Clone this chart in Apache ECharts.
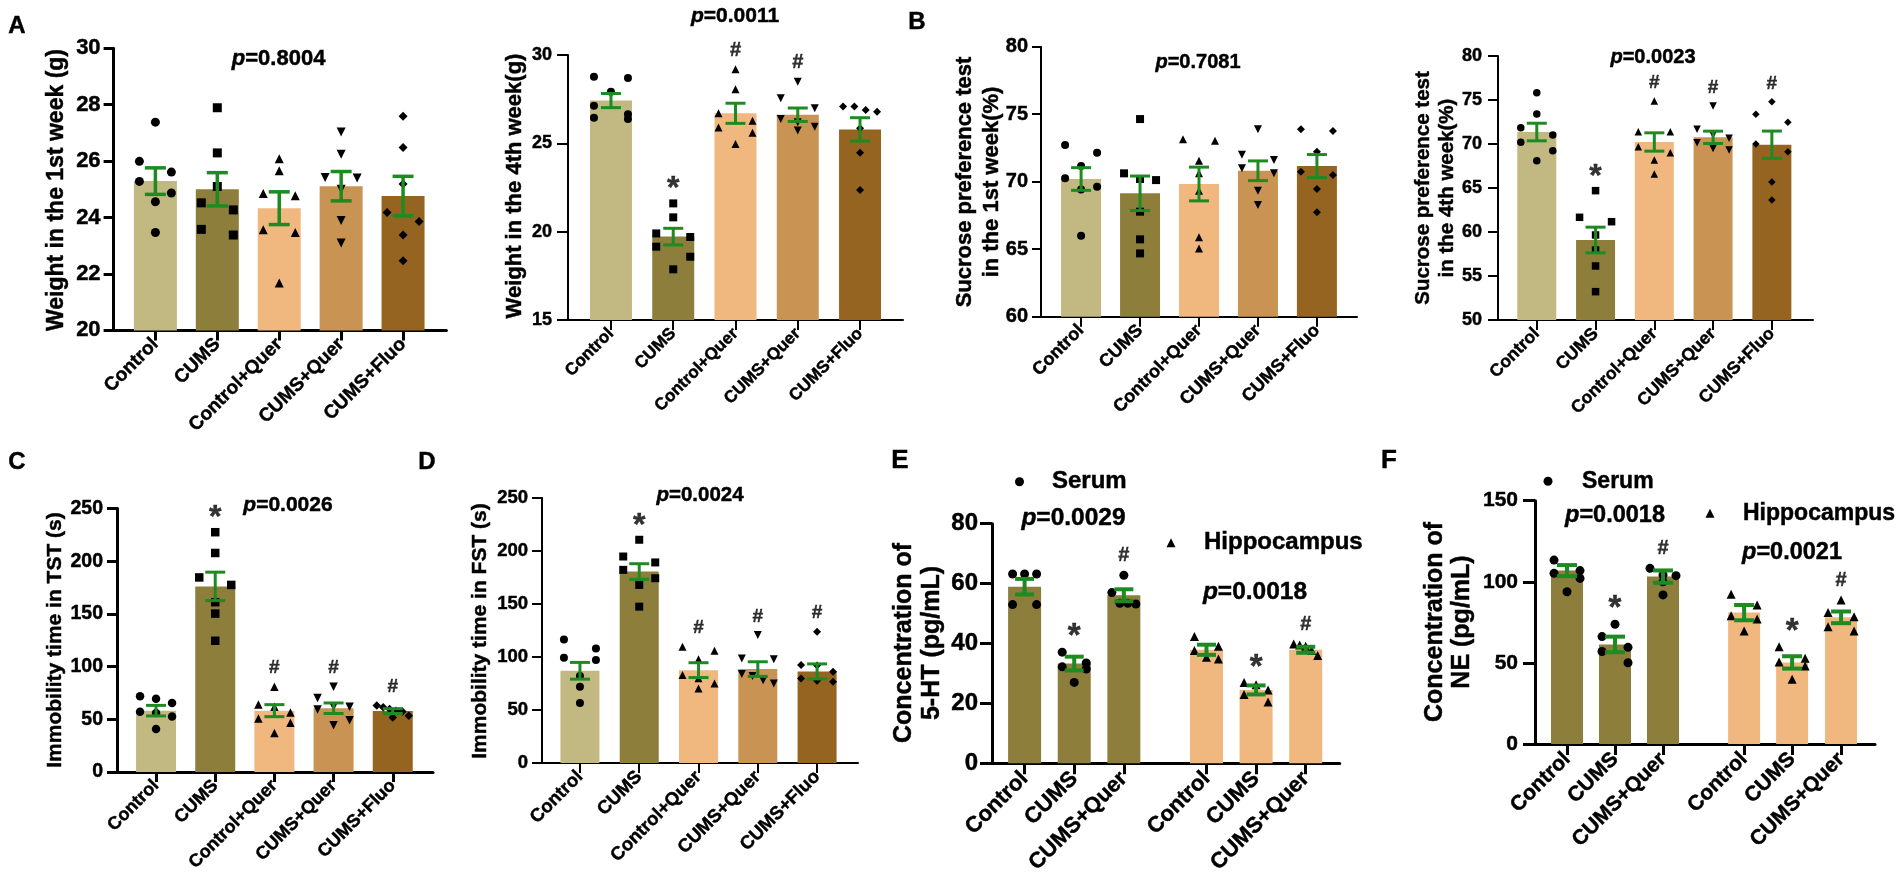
<!DOCTYPE html>
<html>
<head>
<meta charset="utf-8">
<script src="https://cdn.jsdelivr.net/npm/echarts@6/dist/echarts.min.js"></script>
<style>
html,body{margin:0;padding:0;background:#fff;}
#chart{width:1902px;height:888px;}
</style>
</head>
<body>
<div id="chart"></div>
<script>
// ================= DATA =================
const groups5 = ['Control', 'CUMS', 'Control+Quer', 'CUMS+Quer', 'CUMS+Fluo'];
const groups3 = ['Control', 'CUMS', 'CUMS+Quer'];

// A (left): body weight, 1st week
const weight1Means = [25.29, 25.0, 24.33, 25.11, 24.76];
const weight1Sem = [0.47, 0.59, 0.58, 0.52, 0.70];
const weight1Points = [
  [27.38, 25.99, 25.61, 25.28, 24.87, 24.56, 23.47],
  [27.89, 26.29, 25.1, 24.52, 24.27, 23.58, 23.38],
  [26.08, 25.66, 24.85, 24.77, 23.57, 23.47, 21.68],
  [27.03, 26.24, 25.42, 25.4, 25.0, 23.89, 23.1],
  [27.59, 26.48, 25.19, 24.18, 23.86, 23.38, 22.47]
];
const weight1Marks = ['', '', '', '', ''];

// A (right): body weight, 4th week
const weight4Means = [27.42, 19.72, 26.70, 26.62, 25.79];
const weight4Sem = [0.40, 0.47, 0.57, 0.38, 0.66];
const weight4Points = [
  [28.77, 28.70, 27.92, 27.13, 26.64, 26.45, 26.38],
  [21.6, 20.81, 19.9, 19.7, 19.15, 18.58, 17.87],
  [29.19, 28.06, 26.7, 26.28, 25.9, 25.6, 24.96],
  [28.49, 27.55, 26.98, 26.38, 26.2, 25.94, 25.72],
  [27.08, 27.08, 26.89, 26.79, 25.85, 24.47, 22.36]
];
const weight4Marks = ['', '*', '#', '#', ''];

// B (left): sucrose preference, 1st week
const sucrose1Means = [70.2, 69.14, 69.83, 70.81, 71.16];
const sucrose1Sem = [0.84, 1.28, 1.25, 0.73, 0.85];
const sucrose1Points = [
  [72.72, 72.15, 71.16, 70.25, 69.63, 69.43, 66.0],
  [74.64, 70.62, 70.2, 70.12, 67.78, 65.73, 64.69],
  [73.14, 73.04, 71.56, 70.62, 69.33, 65.88, 65.06],
  [73.88, 72.0, 71.6, 71.0, 70.62, 69.33, 68.27],
  [73.88, 73.75, 72.22, 70.74, 70.5, 69.46, 67.73]
];
const sucrose1Marks = ['', '', '', '', ''];

// B (right): sucrose preference, 4th week
const sucrose4Means = [71.36, 59.09, 70.23, 70.76, 69.92];
const sucrose4Sem = [1.0, 1.46, 1.04, 0.7, 1.55];
const sucrose4Points = [
  [75.83, 73.41, 71.86, 71.02, 70.19, 69.24, 68.11],
  [64.7, 61.67, 61.17, 59.66, 57.95, 56.14, 53.22],
  [74.89, 71.4, 71.4, 69.7, 69.0, 68.18, 66.59],
  [74.32, 71.67, 71.02, 70.64, 70.15, 69.5, 69.32],
  [74.81, 73.37, 72.46, 70.0, 69.13, 65.68, 63.64]
];
const sucrose4Marks = ['', '*', '#', '#', '#'];

// C: immobility time in TST
const tstMeans = [58.2, 176.1, 58.2, 60.5, 57.8];
const tstSem = [5.0, 13.5, 5.7, 5.0, 2.3];
const tstPoints = [
  [71.9, 69.6, 65.4, 57.2, 55.9, 52.6, 40.8],
  [227.5, 207.8, 184.6, 177.5, 161.1, 150.3, 124.5],
  [81, 64, 62, 56.5, 50.7, 46.7, 37],
  [81, 70.3, 62, 62, 59.2, 49, 44.4],
  [63, 61.4, 59.8, 58.2, 57.5, 53.3, 51.6]
];
const tstMarks = ['', '*', '#', '#', '#'];

// D: immobility time in FST
const fstMeans = [87, 180.6, 87.6, 88.6, 86.4];
const fstSem = [7.9, 7.4, 7.0, 6.9, 7.1];
const fstPoints = [
  [116.6, 108.1, 99.3, 97.1, 82, 71.9, 56.7],
  [210.6, 194.8, 189.2, 182.2, 174.3, 168, 147.5],
  [109.7, 106, 97.8, 83, 80, 75, 70.3],
  [120.7, 98.7, 97.8, 84, 82, 78, 75],
  [123.9, 92.4, 92, 86, 79.8, 77.6, 76.6]
];
const fstMarks = ['', '*', '#', '#', '#'];

// E: 5-HT concentration (serum, hippocampus)
const htSerumMeans = [58.97, 33.3, 56.1];
const htSerumSem = [2.6, 2.3, 2.0];
const htSerumPoints = [
  [63.2, 63.2, 63.2, 53, 53],
  [37.1, 33.5, 32.2, 31.5, 27],
  [62.8, 57, 53.4, 53.4, 53.2]
];
const htHippoMeans = [37.9, 24.5, 37.9];
const htHippoSem = [1.7, 1.5, 1.0];
const htHippoPoints = [
  [42.3, 39.1, 37.7, 35.4, 34.8],
  [27, 26.2, 24.5, 23, 20.5],
  [39.8, 39.5, 39.1, 37.7, 36]
];
const htMarks = ['', '*', '#', '', '*', '#'];

// F: NE concentration (serum, hippocampus)
const neSerumMeans = [106.9, 61.4, 103.2];
const neSerumSem = [3.4, 4.8, 3.8];
const neSerumPoints = [
  [113.4, 106.9, 105.2, 102.1, 93.9],
  [73.8, 66.2, 59.6, 57, 50.1],
  [108.3, 104.2, 103.8, 100, 91.9]
];
const neHippoMeans = [81, 50.3, 78.1];
const neHippoSem = [4.7, 3.8, 3.6];
const neHippoPoints = [
  [92.3, 85.7, 79.1, 77, 69.7],
  [60, 52.8, 50.5, 48.1, 39.9],
  [88.8, 81, 78.5, 72.3, 69.7]
];
const neMarks = ['', '*', '#', '', '*', '#'];

// p-value annotations
const pValues = ['0.8004', '0.0011', '0.7081', '0.0023', '0.0026', '0.0024', '0.0029', '0.0018', '0.0018', '0.0021'];

// ================= STYLE / LAYOUT =================
const FONT = "'Liberation Sans', Arial, Helvetica, sans-serif";
const GREEN = '#1E8A22';
const THICK = 0.45; // slight stroke to mimic the heavy bold text of the original
const C_CTRL = '#C2B881', C_CUMS = '#8D7E3B', C_CQ = '#F0B77F', C_CUMSQ = '#C99453', C_FLUO = '#966421';
const COLORS5 = [C_CTRL, C_CUMS, C_CQ, C_CUMSQ, C_FLUO];
const COLORS6 = [C_CUMS, C_CUMS, C_CUMS, C_CQ, C_CQ, C_CQ];
const SYM5 = ['circle', 'rect', 'triangle', 'triangleDown', 'diamond'];
const SYM6 = ['circle', 'circle', 'circle', 'triangle', 'triangle', 'triangle'];
const POS5 = [0, 1, 2, 3, 4];

const PANELS = [
  {id: 'A1', means: weight1Means, sems: weight1Sem, points: weight1Points, marks: weight1Marks, labels: groups5,
   left: 113.6, top: 48.2, right: 446.4, bottom: 330.4, xMin: -0.675, xMax: 4.70, pos: POS5,
   yMin: 20, yMax: 30, yInt: 2, axisW: 3, yTickLen: 10, xTickLen: 10, yFont: 22, yMargin: 13, xFont: 19, xMargin: 11,
   barW: 43, sym: 9, slot: 16, capW: 21, errW: 3.5, starFont: 32, hashFont: 20},
  {id: 'A2', means: weight4Means, sems: weight4Sem, points: weight4Points, marks: weight4Marks, labels: groups5,
   left: 568, top: 55, right: 903, bottom: 320, xMin: -0.69, xMax: 4.69, pos: POS5,
   yMin: 15, yMax: 30, yInt: 5, axisW: 2, yTickLen: 11, xTickLen: 10, yFont: 18, yMargin: 16, xFont: 17, xMargin: 11,
   barW: 42, sym: 8, slot: 17, capW: 20, errW: 3, starFont: 32, hashFont: 20},
  {id: 'B1', means: sucrose1Means, sems: sucrose1Sem, points: sucrose1Points, marks: sucrose1Marks, labels: groups5,
   left: 1041, top: 46.7, right: 1357, bottom: 316.7, xMin: -0.68, xMax: 4.68, pos: POS5,
   yMin: 60, yMax: 80, yInt: 5, axisW: 2, yTickLen: 9, xTickLen: 10, yFont: 20, yMargin: 13, xFont: 18, xMargin: 11,
   barW: 40, sym: 8, slot: 16, capW: 20, errW: 3, starFont: 32, hashFont: 20},
  {id: 'B2', means: sucrose4Means, sems: sucrose4Sem, points: sucrose4Points, marks: sucrose4Marks, labels: groups5,
   left: 1498, top: 56, right: 1813, bottom: 320, xMin: -0.66, xMax: 4.70, pos: POS5,
   yMin: 50, yMax: 80, yInt: 5, axisW: 2, yTickLen: 10, xTickLen: 10, yFont: 18, yMargin: 16, xFont: 17.5, xMargin: 11,
   barW: 39, sym: 7.5, slot: 16, capW: 20, errW: 3, starFont: 32, hashFont: 19},
  {id: 'C', means: tstMeans, sems: tstSem, points: tstPoints, marks: tstMarks, labels: groups5,
   left: 117, top: 508.5, right: 433, bottom: 772, xMin: -0.66, xMax: 4.68, pos: POS5,
   yMin: 0, yMax: 250, yInt: 50, axisW: 3, yTickLen: 10, xTickLen: 10, yFont: 19.5, yMargin: 14, xFont: 18, xMargin: 11,
   barW: 40, sym: 8.5, slot: 16, capW: 20, errW: 3, starFont: 32, hashFont: 19},
  {id: 'D', means: fstMeans, sems: fstSem, points: fstPoints, marks: fstMarks, labels: groups5,
   left: 542, top: 498, right: 858, bottom: 763, xMin: -0.64, xMax: 4.69, pos: POS5,
   yMin: 0, yMax: 250, yInt: 50, axisW: 2, yTickLen: 10, xTickLen: 10, yFont: 18.5, yMargin: 14, xFont: 18.5, xMargin: 11,
   barW: 39, sym: 8, slot: 16, capW: 20, errW: 3, starFont: 32, hashFont: 19},
  {id: 'E', means: htSerumMeans.concat(htHippoMeans), sems: htSerumSem.concat(htHippoSem),
   points: htSerumPoints.concat(htHippoPoints), marks: htMarks, labels: groups3.concat(groups3),
   names: ['Serum', 'Serum', 'Serum', 'Hippocampus', 'Hippocampus', 'Hippocampus'],
   left: 992, top: 523.7, right: 1339.7, bottom: 763.3, xMin: -0.657, xMax: 6.35, pos: [0, 1, 2, 3.665, 4.665, 5.665],
   yMin: 0, yMax: 80, yInt: 20, axisW: 3, yTickLen: 12, xTickLen: 11, yFont: 24, yMargin: 14, xFont: 22, xMargin: 12,
   barW: 33, sym: 9, slot: 12, capW: 19, errW: 4, starFont: 33, hashFont: 20, colors: COLORS6, symbols: SYM6},
  {id: 'F', means: neSerumMeans.concat(neHippoMeans), sems: neSerumSem.concat(neHippoSem),
   points: neSerumPoints.concat(neHippoPoints), marks: neMarks, labels: groups3.concat(groups3),
   names: ['Serum', 'Serum', 'Serum', 'Hippocampus', 'Hippocampus', 'Hippocampus'],
   left: 1535, top: 500.7, right: 1875, bottom: 744, xMin: -0.667, xMax: 6.417, pos: [0, 1, 2, 3.69, 4.69, 5.71],
   yMin: 0, yMax: 150, yInt: 50, axisW: 3, yTickLen: 12, xTickLen: 11, yFont: 21, yMargin: 17, xFont: 21, xMargin: 12,
   barW: 32, sym: 9, slot: 13, capW: 20, errW: 4, starFont: 33, hashFont: 20, colors: COLORS6, symbols: SYM6}
];

// Scatter-spreading: points closer than dPx vertically share a row and are spread symmetrically
function swarmOffsets(vals, pxY, dPx, halfW) {
  const order = vals.map((v, i) => i).sort((a, b) => vals[b] - vals[a]);
  const offs = new Array(vals.length).fill(0);
  let row = [];
  const flush = () => {
    const n = row.length;
    row.forEach((k, j) => { offs[k] = n === 1 ? 0 : -halfW + 2 * halfW * j / (n - 1); });
    row = [];
  };
  order.forEach(k => {
    if (row.length && (vals[row[0]] - vals[k]) * pxY >= dPx) flush();
    row.push(k);
  });
  flush();
  return offs;
}

const option = {
  animation: false,
  backgroundColor: '#ffffff',
  grid: [], xAxis: [], yAxis: [], series: [],
  legend: [], graphic: []
};

PANELS.forEach((p, gi) => {
  const w = p.right - p.left, h = p.bottom - p.top;
  const pxX = w / (p.xMax - p.xMin), pxY = h / (p.yMax - p.yMin);
  const colors = p.colors || COLORS5;
  const symbols = p.symbols || SYM5;
  const axisStyle = {color: '#000', width: p.axisW};
  option.grid.push({left: p.left, top: p.top, width: w, height: h, containLabel: false, outerBoundsMode: 'none'});
  option.xAxis.push({
    gridIndex: gi, type: 'value', min: p.xMin, max: p.xMax,
    splitLine: {show: false},
    axisLine: {show: true, onZero: false, lineStyle: axisStyle},
    axisTick: {show: true, customValues: p.pos, length: p.xTickLen, lineStyle: axisStyle},
    axisLabel: {
      show: true, customValues: p.pos, rotate: 45, margin: p.xMargin,
      fontSize: p.xFont, fontWeight: 'bold', color: '#000', fontFamily: FONT,
      textBorderColor: '#000', textBorderWidth: THICK,
      formatter: (v) => {
        const i = p.pos.findIndex(q => Math.abs(q - v) < 1e-6);
        return i >= 0 ? p.labels[i] : '';
      }
    }
  });
  option.yAxis.push({
    gridIndex: gi, type: 'value', min: p.yMin, max: p.yMax, interval: p.yInt,
    splitLine: {show: false},
    axisLine: {show: true, onZero: false, lineStyle: axisStyle},
    axisTick: {show: true, length: p.yTickLen, lineStyle: axisStyle},
    axisLabel: {show: true, margin: p.yMargin, fontSize: p.yFont, fontWeight: 'bold', color: '#000', fontFamily: FONT,
      textBorderColor: '#000', textBorderWidth: THICK}
  });
  // bars (group means)
  option.series.push({
    type: 'bar', xAxisIndex: gi, yAxisIndex: gi, barWidth: p.barW, z: 2, silent: true,
    data: p.means.map((m, i) => ({value: [p.pos[i], m], itemStyle: {color: colors[i]}}))
  });
  // individual points
  const byName = {};
  p.points.forEach((vals, i) => {
    const offs = swarmOffsets(vals, pxY, p.sym * 1.3, p.slot);
    const name = p.names ? p.names[i] : (p.id + ' ' + p.labels[i]);
    const isDown = symbols[i] === 'triangleDown';
    const items = vals.map((v, k) => ({
      value: [p.pos[i] + offs[k] / pxX, v],
      symbol: isDown ? 'triangle' : symbols[i],
      symbolRotate: isDown ? 180 : 0
    }));
    if (!byName[name]) byName[name] = [];
    byName[name].push(...items);
  });
  Object.keys(byName).forEach(name => {
    option.series.push({
      type: 'scatter', name, xAxisIndex: gi, yAxisIndex: gi, z: 4, silent: true,
      symbolSize: p.sym, itemStyle: {color: '#000', opacity: 1},
      data: byName[name]
    });
  });
  // error bars (mean ± SEM)
  const cap = p.capW, ew = p.errW;
  option.series.push({
    type: 'custom', xAxisIndex: gi, yAxisIndex: gi, z: 5, silent: true, clip: false,
    encode: {x: 0, y: 1},
    data: p.means.map((m, i) => [p.pos[i], m, p.sems[i]]),
    renderItem: (params, api) => {
      const x = api.value(0), m = api.value(1), s = api.value(2);
      const t = api.coord([x, m + s]), b = api.coord([x, m - s]);
      const hw = cap / 2;
      const st = {stroke: GREEN, lineWidth: ew};
      return {type: 'group', children: [
        {type: 'line', shape: {x1: t[0], y1: t[1], x2: b[0], y2: b[1]}, style: st},
        {type: 'line', shape: {x1: t[0] - hw, y1: t[1], x2: t[0] + hw, y2: t[1]}, style: st},
        {type: 'line', shape: {x1: b[0] - hw, y1: b[1], x2: b[0] + hw, y2: b[1]}, style: st}
      ]};
    }
  });
  // significance marks above the highest point of each group
  const markData = [];
  p.marks.forEach((mk, i) => {
    if (!mk) return;
    const star = mk === '*';
    const fs = star ? p.starFont : p.hashFont;
    markData.push({
      value: [p.pos[i], Math.max(...p.points[i])],
      label: {show: true, formatter: mk, position: 'top',
        distance: star ? -6 : 5, lineHeight: fs,
        fontSize: fs, fontWeight: 'bold', color: '#000', fontFamily: FONT,
        textBorderColor: '#000', textBorderWidth: THICK}
    });
  });
  if (markData.length) {
    option.series.push({
      type: 'scatter', xAxisIndex: gi, yAxisIndex: gi, z: 6, silent: true,
      symbolSize: p.sym, itemStyle: {color: 'rgba(0,0,0,0)'}, data: markData
    });
  }
});

// Legends for E and F
function legendItem(name, icon, cx, cy, size, fontSize, textStart) {
  return {
    show: true, left: cx - size / 2, top: cy - size / 2, padding: 0, orient: 'horizontal',
    itemWidth: size, itemHeight: size, selectedMode: false,
    data: [{name, icon}],
    textStyle: {fontSize, fontWeight: 'bold', color: '#000', fontFamily: FONT,
      textBorderColor: '#000', textBorderWidth: THICK,
      padding: [0, 0, 0, textStart - (cx + size / 2) - 5]}
  };
}
option.legend.push(legendItem('Serum', 'circle', 1019.5, 474, 9, 24, 1052));
option.legend.push(legendItem('Hippocampus', 'triangle', 1171, 535, 9, 24, 1204));
option.legend.push(legendItem('Serum', 'circle', 1548, 474, 9, 23, 1582));
option.legend.push(legendItem('Hippocampus', 'triangle', 1710, 506, 9, 23, 1743));

// Panel letters
[['A', 17, 26, 24], ['B', 917, 22, 24], ['C', 17, 462, 24], ['D', 427, 462, 24], ['E', 900, 461, 26], ['F', 1389, 461, 26]]
  .forEach(([t, x, y, fs]) => option.graphic.push({
    type: 'text', x, y, silent: true,
    style: {text: t, fill: '#000', fontSize: fs, fontWeight: 'bold', fontFamily: FONT, align: 'center', verticalAlign: 'middle',
      stroke: '#000', lineWidth: THICK}
  }));

// p-values
const pPos = [[278.6, 59, 22], [735, 16, 21], [1198, 62, 20], [1653, 57, 20], [288, 505, 21], [700, 495, 20.5],
  [1073.5, 518, 24.5], [1255, 592, 24.5], [1615, 516, 23.5], [1792, 553, 23.5]];
pValues.forEach((pv, i) => {
  const [x, y, fs] = pPos[i];
  option.graphic.push({
    type: 'text', x, y, silent: true,
    style: {
      text: '{i|p}{n|=' + pv + '}', align: 'center', verticalAlign: 'middle',
      fontSize: fs, fontFamily: FONT, fill: '#000',
      rich: {
        i: {fontStyle: 'italic', fontWeight: 'bold', fontSize: fs, fontFamily: FONT, fill: '#000', stroke: '#000', lineWidth: THICK},
        n: {fontWeight: 'bold', fontSize: fs, fontFamily: FONT, fill: '#000', stroke: '#000', lineWidth: THICK}
      }
    }
  });
});

// Y-axis titles
[['Weight in the 1st week (g)', 57, 190, 23, 27],
 ['Weight in the 4th week(g)', 515, 186, 22, 26],
 ['Sucrose preference test\nin the 1st week(%)', 978.5, 182, 22, 27],
 ['Sucrose preference test\nin the 4th week(%)', 1435, 188, 20.5, 24],
 ['Immobility time in TST (s)', 55, 640, 21, 25],
 ['Immobility time in FST (s)', 480, 631, 21, 25],
 ['Concentration of\n5-HT (pg/mL)', 918, 643, 25, 28],
 ['Concentration of\nNE (pg/mL)', 1448.5, 622, 25, 27]
].forEach(([t, x, y, fs, lh]) => option.graphic.push({
  type: 'text', x, y, rotation: Math.PI / 2, silent: true,
  style: {text: t, fill: '#000', fontSize: fs, fontWeight: 'bold', fontFamily: FONT,
    align: 'center', verticalAlign: 'middle', lineHeight: lh, stroke: '#000', lineWidth: THICK}
}));

const chart = echarts.init(document.getElementById('chart'), null, {renderer: 'canvas'});
chart.setOption(option);
</script>
</body>
</html>
